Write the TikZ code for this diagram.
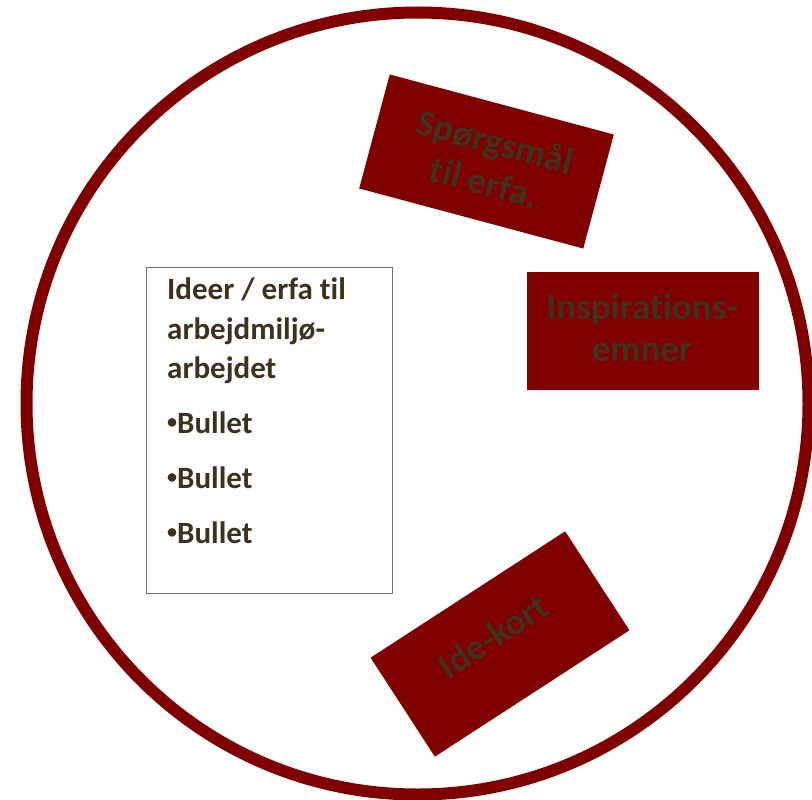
\documentclass[tikz,border=0pt]{standalone}
\usepackage{fontspec}
\setmainfont{Carlito}[RawFeature=-liga]
\definecolor{maroon}{RGB}{128,0,0}
\definecolor{txtbrown}{RGB}{63,50,29}
\definecolor{boxline}{RGB}{120,112,92}
\tikzset{
  card/.style={fill=maroon, draw=none, minimum width=232pt, minimum height=118pt, inner sep=0pt},
  cardtext/.style={inner sep=0pt, text=txtbrown, font=\fontsize{37}{42}\selectfont\bfseries, align=center},
  boxtext/.style={anchor=base west, inner sep=0pt, text=txtbrown, font=\fontsize{31}{38}\selectfont\bfseries}
}
\newcommand{\smallbul}{\raisebox{0.16em}{\fontsize{20}{20}\selectfont•}}
\begin{document}
\begin{tikzpicture}[x=1pt,y=-1pt]
\useasboundingbox (0,0) rectangle (812,800);
\draw[maroon, line width=12pt] (417.5,403.5) circle (391pt);
\node[card, rotate=-15] (q) at (486.5,161.5) {};
\node[cardtext, rotate=-15] (qt) at (490,161.5) {Spørgsmål\\til erfa.};
\node[card] (insp) at (643,330.5) {};
\node[cardtext] (inspt) at (642,328) {Inspirations-\\emner};
\node[card, rotate=33] (ide) at (500,644) {};
\node[cardtext, rotate=33] (idet) at (493,636) {Ide-kort};
\node[draw=boxline, line width=1pt, minimum width=246pt, minimum height=326pt, inner sep=0pt] (box) at (269,430) {};
\node[boxtext] (l1) at (167,299) {Ideer / erfa til};
\node[boxtext] (l2) at (167,339) {arbejdmiljø-};
\node[boxtext] (l3) at (167,378) {arbejdet};
\node[boxtext] (b1) at (167,433) {\smallbul Bullet};
\node[boxtext] (b2) at (167,488) {\smallbul Bullet};
\node[boxtext] (b3) at (167,543) {\smallbul Bullet};
\end{tikzpicture}
\end{document}
